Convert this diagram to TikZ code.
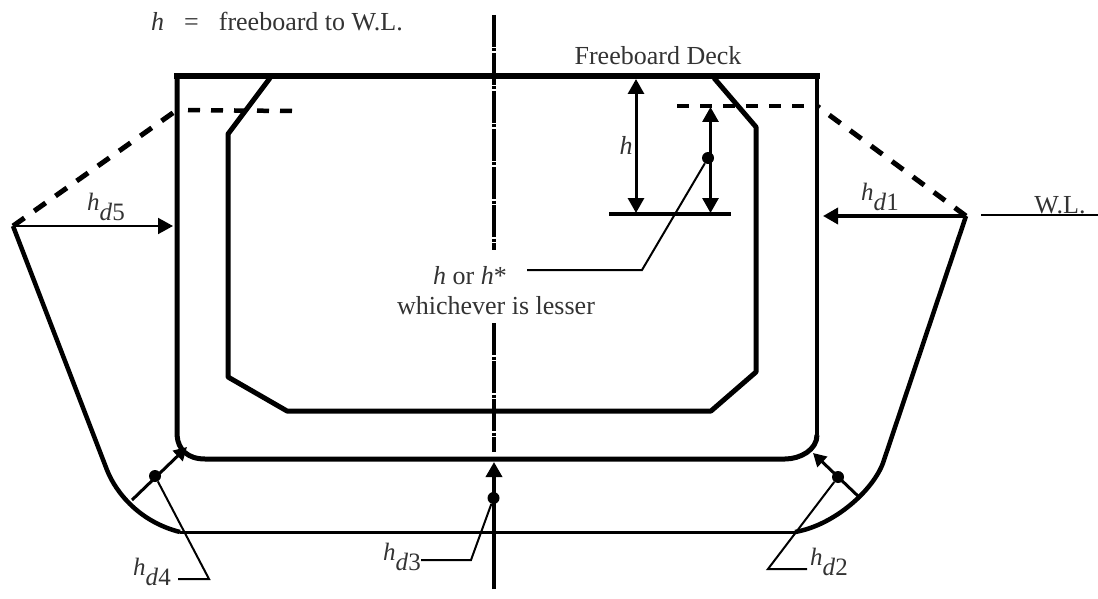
\documentclass[tikz,border=0pt]{standalone}
\usepackage{fontspec}
\setmainfont{Liberation Serif}
\usetikzlibrary{arrows.meta}
\tikzset{
  deck line/.style={line width=6pt},
  wall line/.style={line width=5pt,line join=round},
  hull line/.style={line width=4.5pt},
  thin line/.style={line width=2pt},
  dash line/.style={line width=4.5pt,dash pattern=on 12pt off 11pt},
  slope line/.style={line width=5pt,dash pattern=on 14pt off 12pt},
  center line/.style={line width=3.5pt,dash pattern=on 32pt off 1.5pt on 3pt off 1.5pt},
  dim tip/.style={-{Triangle[length=15pt,width=16pt]}},
  dim tips/.style={{Triangle[length=15pt,width=16pt]}-{Triangle[length=15pt,width=16pt]}},
  dot/.style={circle,fill=black,inner sep=0pt,minimum size=12pt},
  label/.style={text=black!80,inner sep=0pt,font=\fontsize{26}{30}\selectfont},
  small label/.style={text=black!80,inner sep=0pt,font=\fontsize{25}{28}\selectfont}
}
\begin{document}
\begin{tikzpicture}[x=1pt,y=-1pt]
  \useasboundingbox[fill=white] (0,0) rectangle (1098,599);
  % key points of the section
  \coordinate (DeckL) at (177,76);
  \coordinate (DeckR) at (817,76);
  \coordinate (BotL) at (177,435);
  \coordinate (BotR) at (817,435);
  \coordinate (FlatL) at (205,459);
  \coordinate (FlatR) at (785,459);
  \coordinate (WLL) at (13,226);
  \coordinate (WLR) at (966,216);
  \coordinate (FbL) at (177,110);
  \coordinate (FbR) at (817,106);
  \coordinate (FbLe) at (292,111);
  \coordinate (FbRe) at (677,106);
  \coordinate (HullL) at (107,470);
  \coordinate (HullR) at (883,463);
  \coordinate (KeelL) at (180,532);
  \coordinate (KeelR) at (795,532);
  % outer hull
  \draw[deck line] (174,76) -- (820,76);
  \draw[wall line] (DeckL) -- (BotL) .. controls (178,450) and (188,459) .. (FlatL) -- (FlatR)
    .. controls (800,459) and (817,450) .. (BotR);
  \draw[line width=3.5pt] (BotR) -- (DeckR);
  \draw[hull line] (WLL) -- (HullL) .. controls (116,493) and (140,522) .. (KeelL);
  \draw[hull line] (WLR) -- (HullR) .. controls (873,490) and (835,525) .. (KeelR);
  \draw[line width=3pt] (KeelL) -- (KeelR);
  % inner tank
  \draw[wall line] (270,78) -- (228,134) -- (228,377) -- (287,411) -- (711,411) -- (756,372)
    -- (756,127) -- (714,78);
  % freeboard lines
  \draw[slope line] (WLL) -- (FbL);
  \draw[dash line] (FbLe) -- (FbL);
  \draw[slope line] (WLR) -- (FbR);
  \draw[dash line] (FbRe) -- (FbR);
  % center line
  \coordinate (CTop) at (494,15);
  \coordinate (CMid) at (494,250);
  \coordinate (CLow) at (494,323);
  \coordinate (CBot) at (494,452);
  \coordinate (CEnd) at (494,589);
  \coordinate (CTip) at (494,462);
  \draw[center line] (CTop) -- (CMid);
  \draw[center line] (CLow) -- (CBot);
  % h dimensions
  \coordinate (BaseL) at (609,214);
  \coordinate (BaseR) at (731,214);
  \coordinate (ArrA1) at (636,79);
  \coordinate (ArrA2) at (636,213);
  \coordinate (ArrB1) at (710.5,107);
  \coordinate (ArrB2) at (710.5,213);
  \draw[line width=3.5pt] (BaseL) -- (BaseR);
  \draw[line width=3pt,dim tips] (ArrA1) -- (ArrA2);
  \draw[line width=3pt,dim tips] (ArrB1) -- (ArrB2);
  \node[dot] (hDot) at (708,158) {};
  \coordinate (hKnee) at (642,270);
  \coordinate (hEnd) at (527,270);
  \draw[thin line] (hDot) -- (hKnee) -- (hEnd);
  % side arrows
  \coordinate (TipR) at (823,216);
  \coordinate (TipL) at (173,226);
  \draw[line width=3.5pt,dim tip] (WLR) -- (TipR);
  \draw[thin line,dim tip] (WLL) -- (TipL);
  \coordinate (WLs) at (981,215);
  \coordinate (WLe) at (1098,215);
  \draw[thin line] (WLs) -- (WLe);
  % corner arrows
  \coordinate (CornL) at (132,500);
  \coordinate (CornLt) at (187,447);
  \coordinate (CornR) at (859,497);
  \coordinate (CornRt) at (813,453);
  \draw[line width=3pt,-{Triangle[length=13pt,width=14pt]}] (CornL) -- (CornLt);
  \draw[line width=3pt,-{Triangle[length=13pt,width=14pt]}] (CornR) -- (CornRt);
  \node[dot] (dDotL) at (155,476) {};
  \node[dot] (dDotR) at (838,477) {};
  \node[dot] (dDotC) at (493.5,498) {};
  \draw[line width=3.5pt,dim tip] (CEnd) -- (CTip);
  % leaders
  \coordinate (LdA) at (209,579);
  \coordinate (LdAe) at (178,579);
  \coordinate (LdB) at (768,569);
  \coordinate (LdBe) at (807,569);
  \coordinate (LdC) at (471,560);
  \coordinate (LdCe) at (421,560);
  \draw[thin line] (dDotL) -- (LdA) -- (LdAe);
  \draw[thin line] (dDotR) -- (LdB) -- (LdBe);
  \draw[thin line] (dDotC) -- (LdC) -- (LdCe);
  % labels
  \node[label,anchor=west] (Note) at (151,22) {\textit{h}\hspace{20pt}=\hspace{20pt}freeboard to W.L.};
  \node[label] (Deck) at (658,56) {Freeboard Deck};
  \node[label] (hMark) at (626,145) {\textit{h}};
  \node[label] (WL) at (1060,205) {W.L.};
  \node[label] (Which) at (470,276) {\textit{h} or \textit{h}*};
  \node[label] (Lesser) at (496,306) {whichever is lesser};
  \node[small label] (hd1) at (880,197) {\textit{h}\raisebox{-10pt}{\textit{d}1}};
  \node[small label] (hd5) at (106,207) {\textit{h}\raisebox{-10pt}{\textit{d}5}};
  \node[small label] (hd4) at (152,572) {\textit{h}\raisebox{-10pt}{\textit{d}4}};
  \node[small label] (hd3) at (402,557) {\textit{h}\raisebox{-10pt}{\textit{d}3}};
  \node[small label] (hd2) at (829,562) {\textit{h}\raisebox{-10pt}{\textit{d}2}};
\end{tikzpicture}
\end{document}
